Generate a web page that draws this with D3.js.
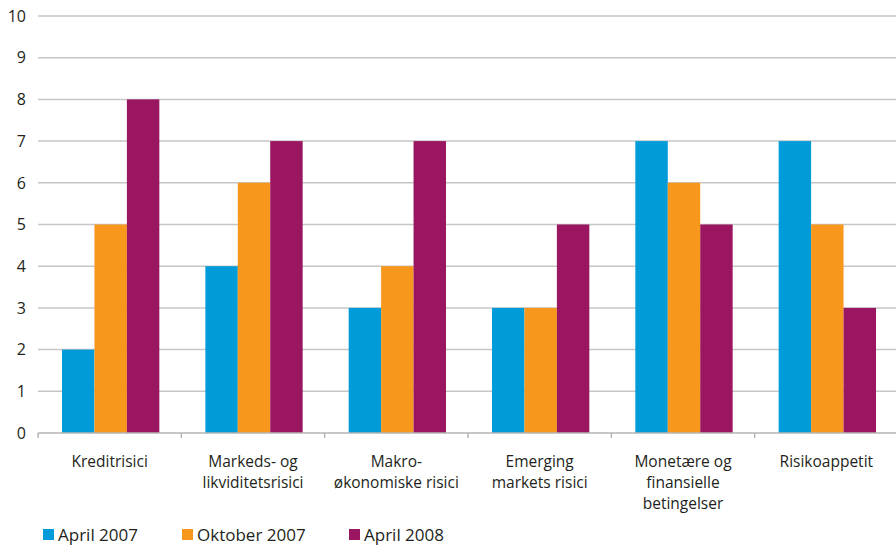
<!DOCTYPE html>
<html>
<head>
<meta charset="utf-8">
<script src="https://cdn.jsdelivr.net/npm/d3@7"></script>
<style>
  body { margin: 0; background: #fff; }
  svg text { font-family: "Open Sans", "Noto Sans", sans-serif; fill: #231f20; }
</style>
</head>
<body>
<div id="chart"></div>
<script>
// Risk survey - grouped bars, three survey rounds
const categories = [
  ["Kreditrisici"],
  ["Markeds- og", "likviditetsrisici"],
  ["Makro-", "økonomiske risici"],
  ["Emerging", "markets risici"],
  ["Monetære og", "finansielle", "betingelser"],
  ["Risikoappetit"]
];
const seriesNames = ["April 2007", "Oktober 2007", "April 2008"];
const april2007 = [2, 4, 3, 3, 7, 7];
const oktober2007 = [5, 6, 4, 3, 6, 5];
const april2008 = [8, 7, 7, 5, 5, 3];
const yTicks = [0, 1, 2, 3, 4, 5, 6, 7, 8, 9, 10];
const colors = ["#009bd8", "#f7981d", "#9b1660"];

const W = 896, H = 545;
const margin = { left: 38, right: -2, top: 16, bottom: 112 };
const width = W - margin.left - margin.right;
const height = H - margin.top - margin.bottom;

const svg = d3.select("#chart").append("svg")
  .attr("width", W).attr("height", H);
const g = svg.append("g").attr("transform", `translate(${margin.left},${margin.top})`);

const x = d3.scaleBand().domain(d3.range(categories.length)).range([0, width]).paddingInner(0).paddingOuter(0);
const xs = d3.scaleBand().domain(d3.range(3)).range([24, x.bandwidth() - 22]);
const y = d3.scaleLinear().domain([0, 10]).range([height, 0]);

// gridlines
g.selectAll(".grid").data(yTicks.filter(t => t > 0)).enter().append("line")
  .attr("x1", 0).attr("x2", width)
  .attr("y1", d => y(d)).attr("y2", d => y(d))
  .attr("stroke", "#c6c6c6").attr("stroke-width", 1.5);

// y labels
g.selectAll(".ylab").data(yTicks).enter().append("text")
  .attr("x", -12).attr("y", d => y(d)).attr("dy", "0.36em")
  .attr("text-anchor", "end").style("font-size", "16px")
  .text(d => d);

// bars
const rows = [april2007, oktober2007, april2008];
rows.forEach((vals, si) => {
  g.selectAll(".bar" + si).data(vals).enter().append("rect")
    .attr("x", (d, i) => x(i) + xs(si))
    .attr("width", xs.bandwidth())
    .attr("y", d => y(d))
    .attr("height", d => y(0) - y(d))
    .attr("fill", colors[si]);
});

// x axis line and ticks
g.append("line").attr("x1", 0).attr("x2", width).attr("y1", y(0)).attr("y2", y(0))
  .attr("stroke", "#b4b4b4").attr("stroke-width", 1.5);
g.selectAll(".xt").data(d3.range(categories.length + 1)).enter().append("line")
  .attr("x1", d => d * x.bandwidth()).attr("x2", d => d * x.bandwidth())
  .attr("y1", y(0)).attr("y2", y(0) + 5)
  .attr("stroke", "#b4b4b4").attr("stroke-width", 1.5);

// category labels
categories.forEach((lines, i) => {
  const t = g.append("text")
    .attr("x", x(i) + x.bandwidth() / 2)
    .attr("y", y(0) + 34)
    .attr("text-anchor", "middle").style("font-size", "15.5px");
  lines.forEach((ln, j) => {
    t.append("tspan").attr("x", x(i) + x.bandwidth() / 2)
      .attr("dy", j === 0 ? 0 : 21).text(ln);
  });
});

// legend
const legendX = [43, 182, 349];
seriesNames.forEach((name, i) => {
  const lg = svg.append("g").attr("transform", `translate(${legendX[i]},529)`);
  lg.append("rect").attr("width", 11).attr("height", 11).attr("fill", colors[i]);
  lg.append("text").attr("x", 15).attr("y", 11.5).style("font-size", "17px").text(name);
});
</script>
</body>
</html>
